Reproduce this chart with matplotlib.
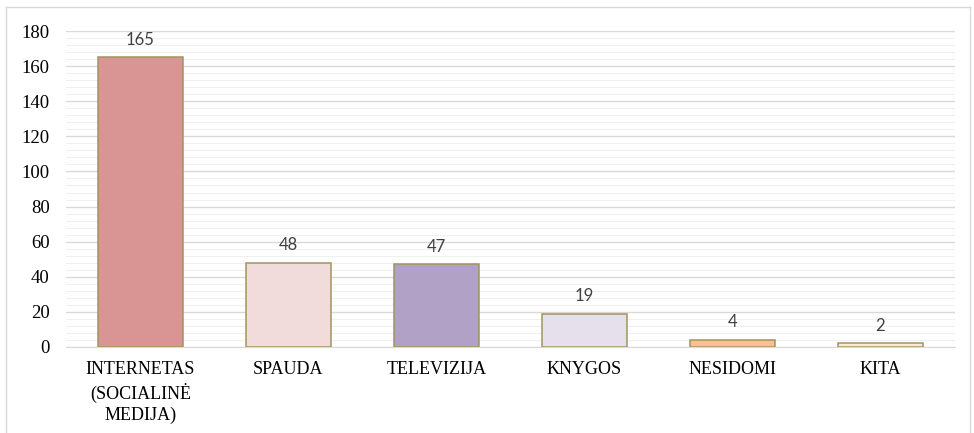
import matplotlib
matplotlib.use("Agg")
import matplotlib.pyplot as plt
from matplotlib.ticker import MultipleLocator
from matplotlib.lines import Line2D

categories = ["INTERNETAS\n(SOCIALINĖ\nMEDIJA)", "SPAUDA", "TELEVIZIJA", "KNYGOS", "NESIDOMI", "KITA"]
values = [165, 48, 47, 19, 4, 2]
colors = ["#D99594", "#F2DCDB", "#B2A1C7", "#E5E0EC", "#FAC090", "#FDE9D9"]

fig = plt.figure(figsize=(9.74, 4.33), dpi=100)
ax = fig.add_axes([0.068, 0.199, 0.912, 0.729])

bars = ax.bar(range(len(values)), values, width=0.575, color=colors,
              edgecolor="#A0945E", linewidth=1.1, zorder=3)

for b, v in zip(bars, values):
    ax.annotate(str(v), (b.get_x() + b.get_width() / 2, v), xytext=(0, 7),
                textcoords="offset points", ha="center", va="bottom",
                fontsize=12, color="#404040", family="Lato")

ax.set_ylim(0, 180)
ax.set_xlim(-0.5, len(values) - 0.5)
ax.yaxis.set_major_locator(MultipleLocator(20))
ax.yaxis.set_minor_locator(MultipleLocator(4))
ax.grid(axis="y", which="major", color="#d9d9d9", linewidth=1.0, zorder=0)
ax.grid(axis="y", which="minor", color="#f0f0f0", linewidth=0.8, zorder=0)

ax.set_xticks(range(len(values)))
ax.set_xticklabels(categories, family="Liberation Serif", fontsize=13,
                   color="#000000", linespacing=1.3)
for t in ax.get_yticklabels():
    t.set_family("Liberation Serif")
    t.set_fontsize(13.5)
    t.set_color("#000000")

ax.tick_params(axis="both", which="both", length=0)
ax.tick_params(axis="x", pad=10)
ax.tick_params(axis="y", pad=12)
for s in ["top", "right", "left"]:
    ax.spines[s].set_visible(False)
ax.spines["bottom"].set_color("#d9d9d9")
ax.spines["bottom"].set_zorder(4)

# light frame around the chart area
for xs, ys in [([0.006, 0.006], [0.0, 0.983]), ([0.006, 0.996], [0.983, 0.983]),
               ([0.996, 0.996], [0.0, 0.983])]:
    fig.add_artist(Line2D(xs, ys, color="#d9d9d9", linewidth=1.0, transform=fig.transFigure))

fig.savefig("out.png", dpi=100)
